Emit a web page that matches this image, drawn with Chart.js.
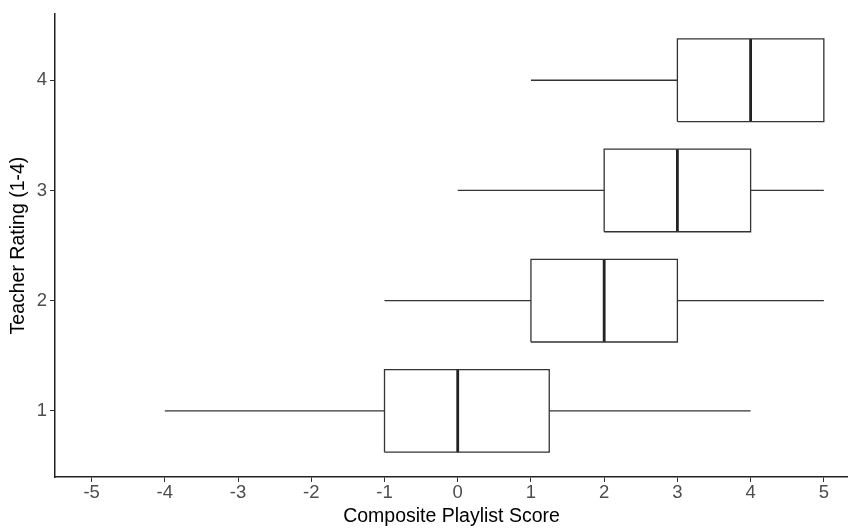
<!DOCTYPE html>
<html>
<head>
<meta charset="utf-8">
<script src="https://cdn.jsdelivr.net/npm/chart.js@4.4.1/dist/chart.umd.min.js"></script>
<style>
  html, body { margin:0; padding:0; background:#fff; }
  #wrap { width:848px; height:529px; }
</style>
</head>
<body>
<div id="wrap"><canvas id="c" width="848" height="529"></canvas></div>
<script>
// rating groups (y) and box stats (x)
const ratings   = [1, 2, 3, 4];
const whiskLow  = [-4, -1, 0, 1];
const q1        = [-1, 1, 2, 3];
const medians   = [0, 2, 3, 4];
const q3        = [1.25, 3, 4, 5];
const whiskHigh = [4, 5, 5, 5];
const xTicks    = [-5, -4, -3, -2, -1, 0, 1, 2, 3, 4, 5];

const BOX_HALF = 0.375;
const EDGE = '#333333';
const FONT = "'Liberation Sans', Arial, sans-serif";

function line(points, width, color){
  return { data:points, showLine:true, borderColor:color, borderWidth:width,
           pointRadius:0, fill:false, tension:0, backgroundColor:'#fff' };
}

const datasets = [];
ratings.forEach((r, i) => {
  // whiskers
  datasets.push(line([{x:whiskLow[i], y:r}, {x:q1[i], y:r}], 1.3, EDGE));
  datasets.push(line([{x:q3[i], y:r}, {x:whiskHigh[i], y:r}], 1.3, EDGE));
  // box outline
  datasets.push(line([
    {x:q1[i], y:r - BOX_HALF}, {x:q3[i], y:r - BOX_HALF},
    {x:q3[i], y:r + BOX_HALF}, {x:q1[i], y:r + BOX_HALF},
    {x:q1[i], y:r - BOX_HALF}
  ], 1.3, EDGE));
  // median
  datasets.push(line([{x:medians[i], y:r - BOX_HALF}, {x:medians[i], y:r + BOX_HALF}], 2.8, '#222222'));
});

new Chart(document.getElementById('c'), {
  type:'scatter',
  data:{ datasets },
  options:{
    responsive:false, animation:false,
    layout:{ padding:{ top:11, right:0, left:0, bottom:0 } },
    plugins:{ legend:{ display:false }, tooltip:{ enabled:false } },
    scales:{
      x:{
        type:'linear', min:-5.5, max:5.33,
        afterBuildTicks:(s)=>{ s.ticks = xTicks.map(v=>({ value:v })); },
        afterFit:(s)=>{ s.height = 52; },
        grid:{ drawOnChartArea:false, tickLength:5, color:'#333', lineWidth:1 },
        border:{ display:true, color:'#222', width:1.5 },
        ticks:{ color:'#4d4d4d', font:{ family:FONT, size:18.5 }, padding:0, autoSkip:false, maxRotation:0 },
        title:{ display:true, text:'Composite Playlist Score', color:'#000', font:{ family:FONT, size:19.5 }, padding:{ top:0, bottom:1 } }
      },
      y:{
        type:'linear', min:0.4, max:4.6,
        afterBuildTicks:(s)=>{ s.ticks = ratings.map(v=>({ value:v })); },
        afterFit:(s)=>{ s.width = 55; },
        grid:{ drawOnChartArea:false, tickLength:5, color:'#333', lineWidth:1 },
        border:{ display:true, color:'#222', width:1.5 },
        ticks:{ color:'#4d4d4d', font:{ family:FONT, size:18.5 }, padding:3 },
        title:{ display:true, text:'Teacher Rating (1-4)', color:'#000', font:{ family:FONT, size:19.5 }, padding:{ top:7, bottom:0 } }
      }
    }
  }
});
</script>
</body>
</html>
